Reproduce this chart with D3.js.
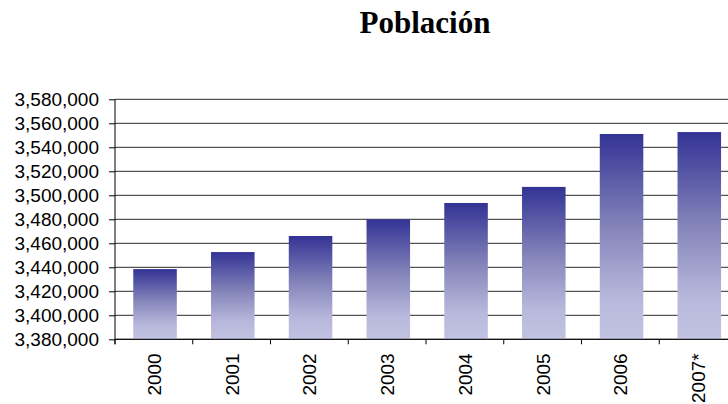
<!DOCTYPE html>
<html><head><meta charset="utf-8">
<script src="https://cdn.jsdelivr.net/npm/d3@7"></script>
<style>html,body{margin:0;padding:0;background:#fff;overflow:hidden}</style>
</head><body>
<script>
const categories = ["2000","2001","2002","2003","2004","2005","2006","2007*"];
const population = [3438500,3452700,3466100,3480000,3493600,3507000,3551100,3552700];
const yTicks = [3380000,3400000,3420000,3440000,3460000,3480000,3500000,3520000,3540000,3560000,3580000];
const title = "Población";

const W = 728, H = 404;
const svg = d3.select("body").append("svg").attr("width", W).attr("height", H);

const x = d3.scaleBand().domain(categories).range([115, 737]).padding(0);
const y = d3.scaleLinear().domain([3380000, 3580000]).range([339.3, 99.3]);

const defs = svg.append("defs");
const grad = defs.append("linearGradient").attr("id","barGrad")
  .attr("x1",0).attr("y1",0).attr("x2",0).attr("y2",1);
grad.append("stop").attr("offset","0%").attr("stop-color","#333395");
grad.append("stop").attr("offset","45%").attr("stop-color","#8484ba");
grad.append("stop").attr("offset","80%").attr("stop-color","#b8b8dc");
grad.append("stop").attr("offset","100%").attr("stop-color","#c2c2e2");

// gridlines
svg.append("g").selectAll("line").data(yTicks).join("line")
  .attr("x1", 115).attr("x2", W)
  .attr("y1", d => y(d)).attr("y2", d => y(d))
  .attr("stroke", "#2a2a2a").attr("stroke-width", 1);

// bars
const bw = x.bandwidth();
svg.append("g").selectAll("rect").data(categories).join("rect")
  .attr("x", d => x(d) + bw*0.235)
  .attr("width", bw*0.56)
  .attr("y", (d,i) => y(population[i]))
  .attr("height", (d,i) => y.range()[0] - y(population[i]))
  .attr("fill", "url(#barGrad)");

// y axis
const yAxis = d3.axisLeft(y).tickValues(yTicks).tickSize(6).tickPadding(10)
  .tickFormat(d3.format(","));
const gy = svg.append("g").attr("transform","translate(115,0)").call(yAxis);
gy.select(".domain").remove();
gy.selectAll(".tick line").attr("stroke","#000");
gy.selectAll("text").attr("font-family","'Liberation Sans', Arial, sans-serif")
  .attr("font-size", 19).attr("fill","#000").attr("dy","0.33em");
svg.append("line").attr("x1",115).attr("x2",115).attr("y1",y(3580000)).attr("y2",y(3380000)+5)
  .attr("stroke","#000");

// x axis line
svg.append("line").attr("x1",115).attr("x2",W).attr("y1",y(3380000)).attr("y2",y(3380000))
  .attr("stroke","#000");
// x ticks at band boundaries
svg.append("g").selectAll("line").data(categories).join("line")
  .attr("x1", d => x(d)).attr("x2", d => x(d))
  .attr("y1", y(3380000)).attr("y2", y(3380000)+5)
  .attr("stroke","#000");
// x labels
svg.append("g").selectAll("text").data(categories).join("text")
  .attr("transform", d => `translate(${x(d)+bw/2+7},${y(3380000)+14}) rotate(-90)`)
  .attr("text-anchor","end")
  .attr("font-family","'Liberation Sans', Arial, sans-serif")
  .attr("font-size",19).attr("fill","#000")
  .text(d => d);

// title
svg.append("text").attr("x", 425).attr("y", 33).attr("text-anchor","middle")
  .attr("font-family","'Liberation Serif', 'Times New Roman', serif")
  .attr("font-weight","bold").attr("font-size",31).attr("fill","#000")
  .text(title);
</script>
</body></html>
